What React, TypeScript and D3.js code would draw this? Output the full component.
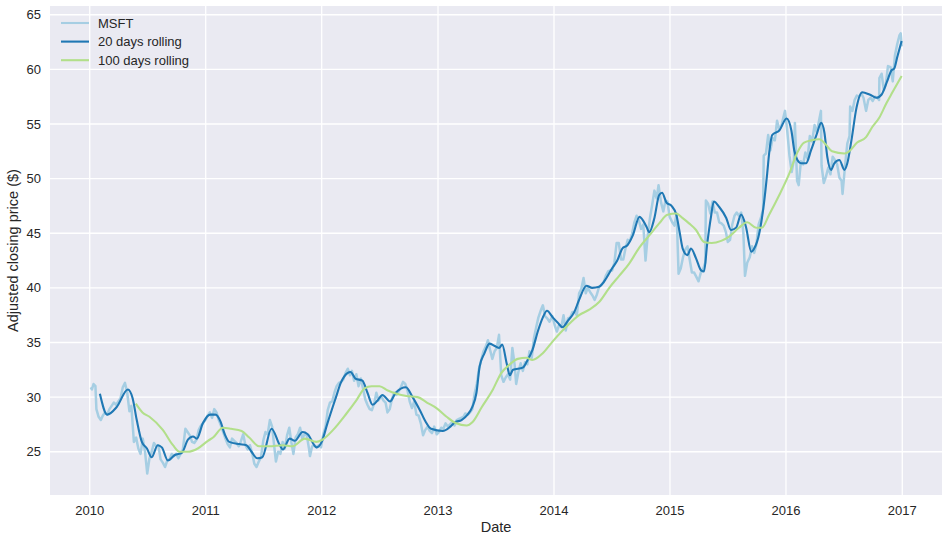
import React from 'react'
import * as d3 from 'd3'

// Adjusted closing price of MSFT
const msft: [string, number][] = [
  ['2010-01-04', 30.9], ['2010-01-08', 30.7], ['2010-01-13', 31.2], ['2010-01-19', 31.0], ['2010-01-22', 28.9],
  ['2010-01-29', 28.2], ['2010-02-05', 27.9], ['2010-02-11', 28.3], ['2010-02-18', 28.6], ['2010-02-25', 28.4],
  ['2010-03-04', 28.9], ['2010-03-11', 29.2], ['2010-03-18', 29.5], ['2010-03-25', 29.3], ['2010-04-01', 29.6],
  ['2010-04-08', 29.9], ['2010-04-15', 30.9], ['2010-04-22', 31.3], ['2010-04-29', 30.4], ['2010-05-06', 28.7],
  ['2010-05-12', 29.2], ['2010-05-20', 25.9], ['2010-05-27', 26.3], ['2010-06-03', 25.3], ['2010-06-10', 24.8],
  ['2010-06-17', 26.2], ['2010-06-24', 25.0], ['2010-07-01', 23.0], ['2010-07-08', 24.4], ['2010-07-15', 25.0],
  ['2010-07-22', 25.8], ['2010-07-29', 25.5], ['2010-08-05', 25.6], ['2010-08-12', 24.3], ['2010-08-19', 24.0],
  ['2010-08-26', 23.6], ['2010-09-02', 24.2], ['2010-09-09', 24.3], ['2010-09-16', 24.8], ['2010-09-23', 24.6],
  ['2010-09-30', 24.8], ['2010-10-07', 24.4], ['2010-10-14', 24.8], ['2010-10-21', 25.2], ['2010-10-29', 27.1],
  ['2010-11-05', 26.8], ['2010-11-12', 26.5], ['2010-11-19', 25.9], ['2010-11-26', 25.8], ['2010-12-03', 26.1],
  ['2010-12-10', 27.0], ['2010-12-17', 27.4], ['2010-12-23', 27.6], ['2010-12-31', 27.9],
  ['2011-01-07', 28.3], ['2011-01-14', 28.6], ['2011-01-21', 28.1], ['2011-01-28', 28.9], ['2011-02-04', 28.6],
  ['2011-02-11', 27.9], ['2011-02-18', 27.4], ['2011-02-25', 26.8], ['2011-03-04', 26.2], ['2011-03-11', 25.7],
  ['2011-03-18', 25.4], ['2011-03-25', 26.2], ['2011-04-01', 26.0], ['2011-04-08', 25.8], ['2011-04-15', 25.5],
  ['2011-04-21', 25.9], ['2011-04-29', 26.6], ['2011-05-06', 25.6], ['2011-05-13', 25.2], ['2011-05-20', 25.6],
  ['2011-05-27', 24.9], ['2011-06-03', 23.9], ['2011-06-10', 23.6], ['2011-06-17', 24.1], ['2011-06-24', 24.5],
  ['2011-07-01', 26.0], ['2011-07-08', 26.8], ['2011-07-15', 26.6], ['2011-07-22', 27.9], ['2011-07-29', 27.3],
  ['2011-08-05', 25.4], ['2011-08-10', 24.1], ['2011-08-17', 25.0], ['2011-08-24', 24.8], ['2011-08-31', 25.9],
  ['2011-09-07', 25.3], ['2011-09-14', 26.5], ['2011-09-21', 27.2], ['2011-09-28', 25.8], ['2011-10-04', 24.8],
  ['2011-10-11', 26.3], ['2011-10-18', 26.6], ['2011-10-25', 27.2], ['2011-11-01', 26.2], ['2011-11-08', 26.6],
  ['2011-11-15', 26.5], ['2011-11-22', 25.3], ['2011-11-25', 24.6], ['2011-12-02', 25.5], ['2011-12-09', 25.6],
  ['2011-12-16', 25.4], ['2011-12-23', 25.6], ['2011-12-30', 25.4],
  ['2012-01-06', 26.6], ['2012-01-13', 27.3], ['2012-01-20', 28.8], ['2012-01-27', 29.5], ['2012-02-03', 29.6],
  ['2012-02-10', 30.4], ['2012-02-17', 31.0], ['2012-02-24', 31.3], ['2012-03-02', 31.4], ['2012-03-09', 31.6],
  ['2012-03-16', 32.2], ['2012-03-23', 32.6], ['2012-03-30', 32.0], ['2012-04-05', 32.4], ['2012-04-12', 31.5],
  ['2012-04-19', 32.1], ['2012-04-26', 31.0], ['2012-05-03', 31.7], ['2012-05-10', 30.8], ['2012-05-17', 29.8],
  ['2012-05-24', 29.3], ['2012-05-31', 28.9], ['2012-06-07', 28.8], ['2012-06-14', 29.4], ['2012-06-21', 30.4],
  ['2012-06-28', 29.7], ['2012-07-06', 30.1], ['2012-07-13', 29.7], ['2012-07-20', 29.5], ['2012-07-26', 28.6],
  ['2012-08-02', 28.9], ['2012-08-09', 29.8], ['2012-08-16', 30.4], ['2012-08-23', 30.2], ['2012-08-30', 30.5],
  ['2012-09-06', 30.9], ['2012-09-13', 31.4], ['2012-09-20', 31.2], ['2012-09-27', 30.6], ['2012-10-04', 29.6],
  ['2012-10-11', 29.0], ['2012-10-18', 29.6], ['2012-10-25', 28.4], ['2012-11-01', 28.3], ['2012-11-08', 27.6],
  ['2012-11-15', 26.5], ['2012-11-22', 27.0], ['2012-11-29', 27.3], ['2012-12-06', 26.9], ['2012-12-13', 26.7],
  ['2012-12-20', 27.3], ['2012-12-28', 26.6],
  ['2013-01-04', 26.8], ['2013-01-11', 27.2], ['2013-01-18', 27.1], ['2013-01-25', 27.6], ['2013-02-01', 27.3],
  ['2013-02-08', 27.5], ['2013-02-15', 27.7], ['2013-02-22', 27.4], ['2013-03-01', 27.9], ['2013-03-08', 28.0],
  ['2013-03-15', 28.1], ['2013-03-22', 28.2], ['2013-03-28', 28.5], ['2013-04-05', 28.4], ['2013-04-12', 28.6],
  ['2013-04-19', 28.9], ['2013-04-26', 30.3], ['2013-05-03', 31.2], ['2013-05-10', 32.6], ['2013-05-17', 33.4],
  ['2013-05-24', 34.2], ['2013-05-31', 34.6], ['2013-06-07', 35.2], ['2013-06-14', 34.3], ['2013-06-21', 33.5],
  ['2013-06-28', 34.2], ['2013-07-05', 34.5], ['2013-07-12', 35.7], ['2013-07-19', 32.0], ['2013-07-26', 31.4],
  ['2013-08-02', 31.8], ['2013-08-09', 32.1], ['2013-08-16', 31.6], ['2013-08-23', 34.5], ['2013-08-30', 33.0],
  ['2013-09-04', 31.2], ['2013-09-11', 32.3], ['2013-09-18', 33.1], ['2013-09-25', 32.4], ['2013-10-02', 33.2],
  ['2013-10-09', 33.0], ['2013-10-16', 34.2], ['2013-10-23', 33.6], ['2013-10-30', 35.4], ['2013-11-06', 36.4],
  ['2013-11-13', 37.3], ['2013-11-20', 37.9], ['2013-11-27', 38.4], ['2013-12-04', 37.4], ['2013-12-11', 37.2],
  ['2013-12-18', 36.9], ['2013-12-27', 37.4],
  ['2014-01-03', 36.6], ['2014-01-10', 36.0], ['2014-01-17', 36.6], ['2014-01-24', 36.4], ['2014-01-31', 37.5],
  ['2014-02-07', 36.1], ['2014-02-14', 37.2], ['2014-02-21', 37.3], ['2014-02-28', 37.8], ['2014-03-07', 37.8],
  ['2014-03-14', 37.5], ['2014-03-21', 39.5], ['2014-03-28', 39.9], ['2014-04-04', 40.9], ['2014-04-11', 39.5],
  ['2014-04-17', 40.0], ['2014-04-25', 39.6], ['2014-05-02', 39.3], ['2014-05-09', 38.9], ['2014-05-16', 39.4],
  ['2014-05-23', 40.1], ['2014-05-30', 40.3], ['2014-06-06', 40.5], ['2014-06-13', 41.1], ['2014-06-20', 41.5],
  ['2014-06-27', 41.6], ['2014-07-03', 41.6], ['2014-07-10', 42.3], ['2014-07-17', 44.1], ['2014-07-24', 44.1],
  ['2014-07-31', 42.6], ['2014-08-07', 42.6], ['2014-08-14', 43.6], ['2014-08-21', 44.4], ['2014-08-28', 44.3],
  ['2014-09-04', 45.0], ['2014-09-11', 46.0], ['2014-09-18', 46.6], ['2014-09-25', 46.2], ['2014-10-02', 45.4],
  ['2014-10-09', 45.8], ['2014-10-16', 42.5], ['2014-10-23', 44.8], ['2014-10-30', 46.4], ['2014-11-06', 47.6],
  ['2014-11-13', 48.9], ['2014-11-20', 48.2], ['2014-11-26', 49.4], ['2014-12-04', 47.8], ['2014-12-11', 47.0],
  ['2014-12-18', 48.0], ['2014-12-24', 47.9], ['2014-12-31', 46.5],
  ['2015-01-08', 46.0], ['2015-01-15', 45.7], ['2015-01-22', 46.8], ['2015-01-28', 41.3], ['2015-02-04', 41.8],
  ['2015-02-11', 42.8], ['2015-02-18', 43.5], ['2015-02-25', 43.8], ['2015-03-04', 42.6], ['2015-03-11', 41.4],
  ['2015-03-18', 41.4], ['2015-03-25', 41.0], ['2015-04-01', 40.6], ['2015-04-08', 41.4], ['2015-04-15', 41.7],
  ['2015-04-22', 42.3], ['2015-04-24', 48.0], ['2015-05-01', 47.7], ['2015-05-08', 46.8], ['2015-05-15', 47.9],
  ['2015-05-22', 46.9], ['2015-05-29', 46.9], ['2015-06-05', 46.0], ['2015-06-12', 45.9], ['2015-06-19', 45.7],
  ['2015-06-26', 45.1], ['2015-07-02', 44.2], ['2015-07-09', 44.4], ['2015-07-16', 45.8], ['2015-07-23', 46.6],
  ['2015-07-30', 46.9], ['2015-08-06', 46.6], ['2015-08-13', 46.9], ['2015-08-20', 45.0], ['2015-08-25', 41.1],
  ['2015-09-01', 42.3], ['2015-09-09', 42.8], ['2015-09-16', 43.8], ['2015-09-23', 43.2], ['2015-09-30', 44.0],
  ['2015-10-07', 45.8], ['2015-10-14', 46.4], ['2015-10-21', 47.2], ['2015-10-23', 52.1], ['2015-10-30', 52.3],
  ['2015-11-06', 54.0], ['2015-11-13', 52.6], ['2015-11-20', 53.7], ['2015-11-27', 53.5], ['2015-12-04', 55.3],
  ['2015-12-11', 54.5], ['2015-12-18', 54.9], ['2015-12-29', 56.2],
  ['2016-01-05', 54.4], ['2016-01-12', 52.1], ['2016-01-19', 50.6], ['2016-01-26', 51.7], ['2016-01-29', 55.1],
  ['2016-02-05', 49.8], ['2016-02-10', 49.4], ['2016-02-17', 51.6], ['2016-02-24', 51.3], ['2016-03-02', 52.4],
  ['2016-03-09', 51.8], ['2016-03-16', 53.9], ['2016-03-23', 53.4], ['2016-03-31', 54.9], ['2016-04-07', 54.2],
  ['2016-04-14', 55.3], ['2016-04-20', 56.2], ['2016-04-22', 51.2], ['2016-04-29', 49.6], ['2016-05-06', 50.2],
  ['2016-05-13', 51.0], ['2016-05-20', 50.4], ['2016-05-27', 52.0], ['2016-06-03', 51.7], ['2016-06-10', 51.3],
  ['2016-06-17', 50.1], ['2016-06-24', 49.8], ['2016-06-27', 48.6], ['2016-07-05', 51.2], ['2016-07-12', 53.2],
  ['2016-07-19', 53.9], ['2016-07-21', 56.6], ['2016-07-28', 56.2], ['2016-08-04', 57.2], ['2016-08-11', 57.6],
  ['2016-08-18', 57.5], ['2016-08-25', 57.8], ['2016-09-01', 57.4], ['2016-09-09', 56.2], ['2016-09-16', 57.2],
  ['2016-09-23', 57.4], ['2016-09-30', 57.1], ['2016-10-07', 57.5], ['2016-10-14', 57.4], ['2016-10-20', 57.2],
  ['2016-10-21', 59.2], ['2016-10-28', 59.6], ['2016-11-04', 58.1], ['2016-11-10', 58.6], ['2016-11-17', 60.3],
  ['2016-11-25', 60.2], ['2016-12-02', 58.9], ['2016-12-09', 61.3], ['2016-12-16', 62.3], ['2016-12-23', 63.1],
  ['2016-12-27', 63.3], ['2016-12-30', 62.1],
]

// 20 days rolling mean
const rolling20: [string, number][] = [
  ['2010-02-02', 30.3], ['2010-02-25', 28.4], ['2010-03-27', 29.1], ['2010-05-01', 30.7], ['2010-05-16', 29.9],
  ['2010-05-29', 27.9], ['2010-06-14', 25.9], ['2010-06-30', 25.3], ['2010-07-15', 24.5], ['2010-08-03', 25.6],
  ['2010-08-16', 25.4], ['2010-09-04', 24.2], ['2010-09-26', 24.7], ['2010-10-18', 24.9], ['2010-11-06', 26.1],
  ['2010-11-22', 26.4], ['2010-12-04', 26.2], ['2010-12-23', 27.6], ['2011-01-15', 28.4], ['2011-02-01', 28.4],
  ['2011-02-16', 27.8], ['2011-03-02', 26.6], ['2011-03-16', 25.9], ['2011-04-17', 25.7], ['2011-05-09', 25.6],
  ['2011-05-25', 25.0], ['2011-06-12', 24.4], ['2011-06-28', 24.5], ['2011-07-27', 27.1], ['2011-08-22', 25.6],
  ['2011-09-01', 25.2], ['2011-09-22', 26.2], ['2011-10-08', 26.0], ['2011-11-02', 26.8], ['2011-11-18', 26.6],
  ['2011-12-16', 25.4], ['2012-01-01', 25.9], ['2012-01-19', 27.6], ['2012-02-15', 30.0], ['2012-03-01', 31.3],
  ['2012-03-22', 32.2], ['2012-04-01', 32.3], ['2012-04-16', 31.7], ['2012-05-08', 31.5], ['2012-05-24', 30.4],
  ['2012-06-09', 29.3], ['2012-06-25', 29.7], ['2012-07-10', 30.2], ['2012-08-03', 29.6], ['2012-08-21', 30.4],
  ['2012-09-22', 30.9], ['2012-10-13', 30.0], ['2012-11-05', 28.8], ['2012-11-24', 27.7], ['2012-12-10', 27.1],
  ['2013-01-16', 26.9], ['2013-02-09', 27.3], ['2013-02-24', 27.7], ['2013-03-16', 27.9], ['2013-04-04', 28.4],
  ['2013-04-19', 29.1], ['2013-05-02', 30.4], ['2013-05-12', 32.8], ['2013-05-27', 34.0], ['2013-06-12', 34.9],
  ['2013-06-27', 34.7], ['2013-07-12', 34.5], ['2013-07-22', 34.8], ['2013-08-05', 33.1], ['2013-08-15', 32.0],
  ['2013-08-25', 32.5], ['2013-09-25', 32.7], ['2013-10-10', 33.4], ['2013-10-25', 34.3], ['2013-11-12', 36.1],
  ['2013-11-27', 37.3], ['2013-12-10', 37.9], ['2013-12-28', 37.3], ['2014-01-13', 36.8], ['2014-01-28', 36.4],
  ['2014-02-14', 37.0], ['2014-03-06', 37.8], ['2014-03-21', 38.9], ['2014-04-13', 40.2], ['2014-05-01', 40.0],
  ['2014-05-23', 40.1], ['2014-06-15', 40.9], ['2014-07-03', 41.8], ['2014-07-19', 42.5], ['2014-08-04', 43.6],
  ['2014-08-20', 43.9], ['2014-09-06', 44.8], ['2014-09-27', 46.5], ['2014-10-19', 45.6], ['2014-10-28', 45.1],
  ['2014-11-13', 46.4], ['2014-11-28', 48.5], ['2014-12-07', 48.7], ['2014-12-21', 47.8], ['2015-01-06', 47.5],
  ['2015-01-21', 46.7], ['2015-02-01', 45.0], ['2015-02-10', 43.6], ['2015-02-25', 43.0], ['2015-03-08', 43.6],
  ['2015-03-24', 42.7], ['2015-04-09', 41.6], ['2015-04-18', 41.5], ['2015-04-28', 44.0], ['2015-05-10', 46.5],
  ['2015-05-19', 47.9], ['2015-06-05', 47.4], ['2015-06-27', 46.4], ['2015-07-12', 45.3], ['2015-07-28', 45.5],
  ['2015-08-13', 46.7], ['2015-08-28', 45.6], ['2015-09-14', 43.3], ['2015-09-23', 43.6], ['2015-10-09', 45.0],
  ['2015-10-24', 47.8], ['2015-11-03', 50.5], ['2015-11-09', 52.3], ['2015-11-19', 54.0], ['2015-12-11', 54.4],
  ['2016-01-03', 55.5], ['2016-01-18', 54.4], ['2016-01-27', 52.6], ['2016-02-06', 51.7], ['2016-02-18', 51.4],
  ['2016-03-04', 51.4], ['2016-03-20', 52.6], ['2016-04-06', 54.0], ['2016-04-21', 55.1], ['2016-05-01', 54.2],
  ['2016-05-10', 52.0], ['2016-05-22', 50.8], ['2016-06-01', 51.4], ['2016-06-17', 51.7], ['2016-07-03', 50.8],
  ['2016-07-12', 51.4], ['2016-07-25', 53.5], ['2016-08-10', 56.5], ['2016-08-28', 57.9], ['2016-09-20', 57.7],
  ['2016-10-12', 57.4], ['2016-10-28', 57.7], ['2016-11-13', 58.8], ['2016-11-28', 59.9], ['2016-12-07', 60.1],
  ['2016-12-16', 61.1], ['2016-12-30', 62.6],
]

// 100 days rolling mean
const rolling100: [string, number][] = [
  ['2010-05-26', 29.4], ['2010-06-16', 28.6], ['2010-07-08', 28.2], ['2010-08-19', 27.0], ['2010-09-20', 25.6],
  ['2010-10-11', 25.0], ['2010-11-06', 25.0], ['2010-12-07', 25.3], ['2011-01-08', 26.0], ['2011-01-24', 26.3],
  ['2011-02-24', 27.2], ['2011-03-22', 27.1], ['2011-04-24', 26.9], ['2011-05-18', 26.3], ['2011-06-18', 25.5],
  ['2011-07-20', 25.5], ['2011-09-01', 25.6], ['2011-10-01', 25.5], ['2011-11-09', 26.2], ['2011-12-15', 25.9],
  ['2012-01-03', 26.1], ['2012-02-06', 27.0], ['2012-03-19', 28.5], ['2012-04-19', 29.7], ['2012-05-15', 30.8],
  ['2012-06-06', 31.0], ['2012-07-01', 31.0], ['2012-07-27', 30.6], ['2012-08-24', 30.3], ['2012-09-24', 30.1],
  ['2012-10-29', 30.0], ['2012-11-27', 29.5], ['2012-12-27', 29.0], ['2013-01-28', 28.2], ['2013-02-27', 27.6],
  ['2013-04-01', 27.4], ['2013-04-19', 27.7], ['2013-05-19', 29.1], ['2013-06-21', 30.6], ['2013-07-19', 32.2],
  ['2013-08-15', 33.0], ['2013-09-09', 33.5], ['2013-10-06', 33.6], ['2013-10-25', 33.4], ['2013-11-26', 34.0],
  ['2013-12-28', 35.1], ['2014-02-11', 36.5], ['2014-03-21', 37.5], ['2014-04-22', 38.0], ['2014-05-23', 38.7],
  ['2014-06-24', 40.0], ['2014-07-25', 41.1], ['2014-08-25', 42.2], ['2014-09-27', 43.7], ['2014-10-28', 44.8],
  ['2014-11-28', 45.9], ['2014-12-24', 46.7], ['2015-01-21', 46.8], ['2015-02-09', 46.4], ['2015-03-02', 45.9],
  ['2015-03-24', 45.3], ['2015-04-18', 44.2], ['2015-05-12', 44.1], ['2015-06-11', 44.3], ['2015-07-06', 44.7],
  ['2015-08-06', 45.5], ['2015-09-01', 46.0], ['2015-09-29', 45.5], ['2015-10-17', 45.5], ['2015-11-09', 46.7],
  ['2015-12-11', 48.5], ['2016-01-12', 50.5], ['2016-02-06', 52.4], ['2016-02-27', 53.3], ['2016-03-20', 53.5],
  ['2016-04-15', 53.6], ['2016-05-06', 53.1], ['2016-05-25', 52.5], ['2016-07-03', 52.3], ['2016-07-18', 52.5],
  ['2016-08-12', 53.3], ['2016-09-09', 53.8], ['2016-09-28', 54.7], ['2016-10-21', 55.6], ['2016-11-12', 56.9],
  ['2016-12-01', 57.9], ['2016-12-30', 59.4],
]

const yTicks = [25, 30, 35, 40, 45, 50, 55, 60, 65]
const xTickYears = [2010, 2011, 2012, 2013, 2014, 2015, 2016, 2017]

const seriesInfo = [
  { name: 'MSFT', data: msft, color: '#a6cee3', smooth: false, width: 2.5 },
  { name: '20 days rolling', data: rolling20, color: '#1f78b4', smooth: true, width: 2.1 },
  { name: '100 days rolling', data: rolling100, color: '#b2df8a', smooth: true, width: 2.1 },
]

const W = 949
const H = 542
const margin = { top: 6, right: 7, bottom: 47, left: 50 }
const FONT = '"Liberation Sans", Arial, sans-serif'
const TEXT = '#262626'

const parse = d3.timeParse('%Y-%m-%d')

export default function App() {
  document.body.style.margin = '0'

  const x = d3.scaleTime()
    .domain([parse('2009-08-29')!, parse('2017-05-06')!])
    .range([margin.left, W - margin.right])
  const y = d3.scaleLinear()
    .domain([21.04, 65.8])
    .range([H - margin.bottom, margin.top])

  const makeLine = (smooth: boolean) =>
    d3.line<[string, number]>()
      .x(d => x(parse(d[0])!))
      .y(d => y(d[1]))
      .curve(smooth ? d3.curveMonotoneX : d3.curveLinear)

  const xTicks = xTickYears.map(yr => new Date(yr, 0, 1))
  const plotH = H - margin.bottom - margin.top

  return (
    <svg width={W} height={H} style={{ display: 'block', background: '#fff', fontFamily: FONT }}>
      <rect x={margin.left} y={margin.top} width={W - margin.left - margin.right} height={plotH} fill="#eaeaf2" />
      {yTicks.map(t => (
        <line key={'gy' + t} x1={margin.left} x2={W - margin.right} y1={y(t)} y2={y(t)} stroke="#fff" strokeWidth={1.3} />
      ))}
      {xTicks.map(t => (
        <line key={'gx' + t.getFullYear()} x1={x(t)} x2={x(t)} y1={margin.top} y2={H - margin.bottom} stroke="#fff" strokeWidth={1.3} />
      ))}

      {seriesInfo.map(s => (
        <path key={s.name} d={makeLine(s.smooth)(s.data) || ''} fill="none" stroke={s.color}
          strokeWidth={s.width} strokeLinejoin="round" strokeLinecap="butt" />
      ))}

      {/* y tick labels */}
      {yTicks.map(t => (
        <text key={'ty' + t} x={margin.left - 9} y={y(t)} dy="0.35em" textAnchor="end" fontSize={13} fill={TEXT}>{t}</text>
      ))}
      {/* x tick labels */}
      {xTicks.map(t => (
        <text key={'tx' + t.getFullYear()} x={x(t)} y={H - margin.bottom + 20} textAnchor="middle" fontSize={13} fill={TEXT}>
          {d3.timeFormat('%Y')(t)}
        </text>
      ))}

      <text x={(margin.left + W - margin.right) / 2} y={H - 10} textAnchor="middle" fontSize={14.5} fill={TEXT}>Date</text>
      <text transform={`translate(18,${margin.top + plotH / 2}) rotate(-90)`} textAnchor="middle" fontSize={14.5} fill={TEXT}>
        Adjusted closing price ($)
      </text>

      {/* legend */}
      {seriesInfo.map((s, i) => (
        <g key={'lg' + s.name} transform={`translate(61,${23 + i * 18.6})`}>
          <line x1={0} x2={28} y1={0} y2={0} stroke={s.color} strokeWidth={2.1} />
          <text x={37} y={0} dy="0.35em" fontSize={13} fill={TEXT}>{s.name}</text>
        </g>
      ))}
    </svg>
  )
}
